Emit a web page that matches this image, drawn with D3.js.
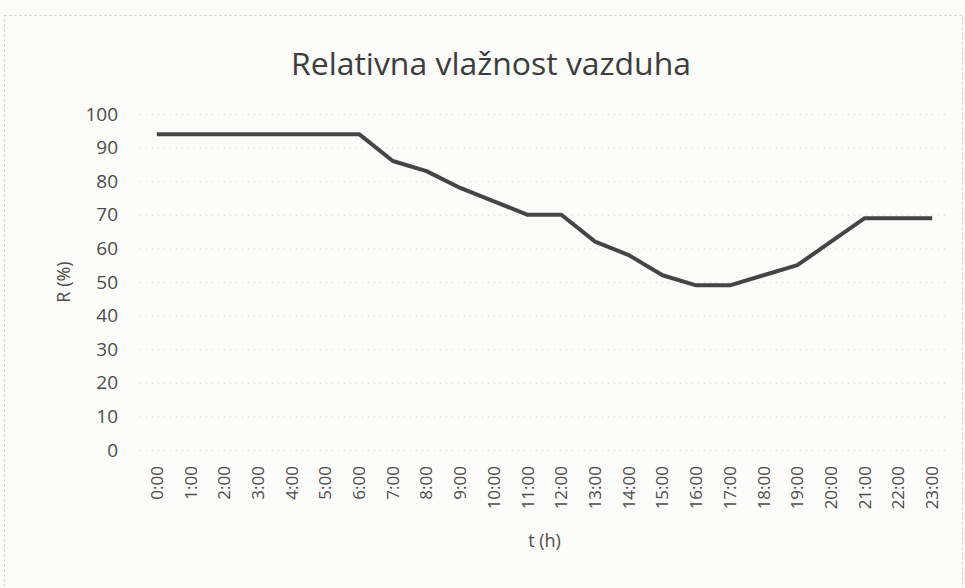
<!DOCTYPE html>
<html>
<head>
<meta charset="utf-8">
<script src="https://cdn.jsdelivr.net/npm/d3@7"></script>
<style>
  body { margin: 0; background: #fbfbf9; }
  svg { display: block; }
</style>
</head>
<body>
<svg id="chart" width="965" height="588"></svg>
<script>
// podaci
var hours = ["0:00", "1:00", "2:00", "3:00", "4:00", "5:00", "6:00", "7:00", "8:00", "9:00", "10:00", "11:00",
    "12:00", "13:00", "14:00", "15:00", "16:00", "17:00", "18:00", "19:00", "20:00", "21:00", "22:00", "23:00"];
var humidity = [94, 94, 94, 94, 94, 94, 94, 86, 83, 78, 74, 70,
    70, 62, 58, 52, 49, 49, 52, 55, 62, 69, 69, 69];
var yTicks = [0, 10, 20, 30, 40, 50, 60, 70, 80, 90, 100];

(function() {
    var svg = d3.select("#chart");
    var font = "'Open Sans', 'Liberation Sans', sans-serif";

    // okvir grafikona
    svg.append("rect")
        .attr("x", 4.5).attr("y", 15.5)
        .attr("width", 958).attr("height", 600)
        .attr("fill", "none")
        .attr("stroke", "#c8c8c8")
        .attr("stroke-dasharray", "2,3");

    var pLeft = 140, pRight = 949, pTop = 114, pBottom = 450;

    var x = d3.scaleBand().domain(hours).range([pLeft, pRight]);
    var y = d3.scaleLinear().domain([0, 100]).range([pBottom, pTop]);

    // mreza
    svg.append("g")
        .selectAll("line")
        .data(yTicks)
        .enter().append("line")
        .attr("x1", pLeft).attr("x2", pRight)
        .attr("y1", function(d) { return y(d) + 0.5; })
        .attr("y2", function(d) { return y(d) + 0.5; })
        .attr("stroke", "#d4d4d4")
        .attr("stroke-dasharray", "1,5");

    // y osa
    var yAxis = svg.append("g")
        .attr("transform", "translate(" + (pLeft - 22) + ",0)")
        .call(d3.axisLeft(y).tickValues(yTicks).tickSize(0).tickPadding(0));
    yAxis.select(".domain").remove();
    yAxis.selectAll("text")
        .attr("fill", "#4d4d4d")
        .style("font-family", font)
        .style("font-size", "19px");

    // x osa
    var xAxis = svg.append("g")
        .attr("transform", "translate(0," + pBottom + ")")
        .call(d3.axisBottom(x).tickSize(0).tickPadding(0));
    xAxis.select(".domain").remove();
    xAxis.selectAll("text")
        .attr("fill", "#4d4d4d")
        .style("font-family", font)
        .style("font-size", "17px")
        .attr("text-anchor", "end")
        .attr("y", 0)
        .attr("dy", "0.35em")
        .attr("transform", "translate(0,16) rotate(-90)");

    // linija
    var line = d3.line()
        .x(function(d, i) { return x(hours[i]) + x.bandwidth() / 2; })
        .y(function(d) { return y(d); });

    svg.append("path")
        .datum(humidity)
        .attr("d", line)
        .attr("fill", "none")
        .attr("stroke", "#454545")
        .attr("stroke-width", 4)
        .attr("stroke-linejoin", "round");

    // naslovi
    svg.append("text")
        .attr("x", 491).attr("y", 75)
        .attr("text-anchor", "middle")
        .attr("fill", "#3d3d3d")
        .attr("textLength", 400)
        .attr("lengthAdjust", "spacingAndGlyphs")
        .style("font-family", font)
        .style("font-size", "31px")
        .text("Relativna vlažnost vazduha");

    svg.append("text")
        .attr("transform", "translate(70," + ((pTop + pBottom) / 2) + ") rotate(-90)")
        .attr("text-anchor", "middle")
        .attr("fill", "#4d4d4d")
        .style("font-family", font)
        .style("font-size", "18px")
        .text("R (%)");

    svg.append("text")
        .attr("x", (pLeft + pRight) / 2).attr("y", 547)
        .attr("text-anchor", "middle")
        .attr("fill", "#4d4d4d")
        .style("font-family", font)
        .style("font-size", "18px")
        .text("t (h)");
})();
</script>
</body>
</html>
